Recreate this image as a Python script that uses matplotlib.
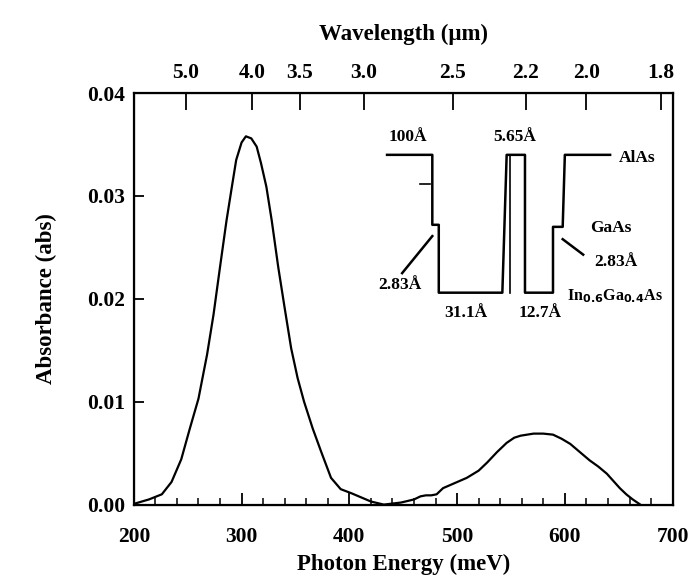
import numpy as np
import matplotlib
matplotlib.use('Agg')
import matplotlib.pyplot as plt

# absorbance spectrum
energy = [201, 214, 226, 235, 244, 252, 260, 268, 274, 280, 286, 291, 295, 300,
          304, 309, 314, 318, 323, 328, 334, 340, 346, 352, 358, 366, 374, 383,
          392, 402, 411, 420, 432, 448, 460, 466, 471, 476, 481, 487, 498, 509,
          520, 528, 537, 546, 553, 559, 571, 580, 589, 597, 605, 614, 623, 631,
          639, 645, 651, 657, 663, 670]
absorb = [0.0001, 0.0005, 0.0010, 0.0022, 0.0044, 0.0074, 0.0103, 0.0146, 0.0185,
          0.0231, 0.0276, 0.0309, 0.0335, 0.0352, 0.0358, 0.0356, 0.0348, 0.0332,
          0.0309, 0.0276, 0.0231, 0.0191, 0.0152, 0.0123, 0.0100, 0.0074, 0.0051,
          0.0026, 0.0015, 0.0011, 0.0007, 0.0003, 0.0000, 0.0002, 0.0005, 0.0008,
          0.0009, 0.0009, 0.0010, 0.0016, 0.0021, 0.0026, 0.0033, 0.0041, 0.0051,
          0.0060, 0.0065, 0.0067, 0.0069, 0.0069, 0.0068, 0.0064, 0.0059, 0.0051,
          0.0043, 0.0037, 0.0030, 0.0023, 0.0016, 0.0010, 0.0005, 0.0000]

wavelength_ticks = [5.0, 4.0, 3.5, 3.0, 2.5, 2.2, 2.0, 1.8]
wavelength_labels = ['5.0', '4.0', '3.5', '3.0', '2.5', '2.2', '2.0', '1.8']
y_ticks = [0.00, 0.01, 0.02, 0.03, 0.04]

# band diagram inset (drawn in data units)
band_x = [435, 477, 477, 483, 483, 542, 546, 563, 563, 589, 589, 598, 600, 642]
band_y = [0.0340, 0.0340, 0.0272, 0.0272, 0.0206, 0.0206, 0.0340, 0.0340,
          0.0206, 0.0206, 0.0270, 0.0270, 0.0340, 0.0340]

plt.rcParams['font.family'] = ['Liberation Serif', 'DejaVu Serif']
plt.rcParams['font.weight'] = 'bold'
plt.rcParams['axes.labelweight'] = 'bold'

fig = plt.figure(figsize=(6.97, 5.82), dpi=100)
ax = fig.add_axes([0.192, 0.133, 0.773, 0.707])

ax.plot(energy, absorb, color='black', lw=1.6)
ax.plot(band_x, band_y, color='black', lw=1.8)
ax.plot([549, 549], [0.0340, 0.0206], color='black', lw=1.2)
ax.plot([477, 449], [0.0261, 0.0225], color='black', lw=1.8)
ax.plot([598, 617], [0.0258, 0.0243], color='black', lw=1.8)
ax.plot([466, 475], [0.0312, 0.0312], color='black', lw=1.2)

ts = 12.5
ax.text(454, 0.0350, "100Å", fontsize=ts, ha='center', va='bottom')
ax.text(553, 0.0350, "5.65Å", fontsize=ts, ha='center', va='bottom')
ax.text(650, 0.0337, "AlAs", fontsize=ts, ha='left', va='center')
ax.text(643, 0.0269, "GaAs", fontsize=ts, ha='center', va='center')
ax.text(647, 0.0236, "2.83Å", fontsize=ts, ha='center', va='center')
ax.text(447, 0.0213, "2.83Å", fontsize=ts, ha='center', va='center')
ax.text(508, 0.0186, "31.1Å", fontsize=ts, ha='center', va='center')
ax.text(577, 0.0186, "12.7Å", fontsize=ts, ha='center', va='center')
ax.text(646, 0.0203, r"In$_{\mathbf{0.6}}$Ga$_{\mathbf{0.4}}$As", fontsize=11.5,
        ha='center', va='center')

ax.set_xlim(200, 700)
ax.set_ylim(0, 0.04)
ax.set_xticks([200, 300, 400, 500, 600, 700])
ax.set_xticks(np.arange(200, 701, 20), minor=True)
ax.set_yticks(y_ticks)
ax.set_yticklabels(['%.2f' % v for v in y_ticks])
ax.tick_params(axis='x', which='major', direction='in', length=9, width=1.3,
               labelsize=15.5, pad=16)
ax.tick_params(axis='x', which='minor', direction='in', length=5, width=1.1)
ax.tick_params(axis='y', direction='in', length=7, width=1.3, labelsize=15.5, pad=6)
for s in ax.spines.values():
    s.set_linewidth(1.6)

ax.set_xlabel('Photon Energy (meV)', fontsize=16.5, labelpad=5)
ax.set_ylabel('Absorbance (abs)', fontsize=16.5, labelpad=22)

ax2 = ax.twiny()
ax2.set_xlim(ax.get_xlim())
ax2.set_xticks([1239.84 / w for w in wavelength_ticks])
ax2.set_xticklabels(wavelength_labels)
ax2.tick_params(axis='x', direction='in', length=12, width=1.3, labelsize=15.5, pad=7)
ax2.set_xlabel('Wavelength (μm)', fontsize=16.5, labelpad=17)

fig.savefig('out.png', dpi=100)
